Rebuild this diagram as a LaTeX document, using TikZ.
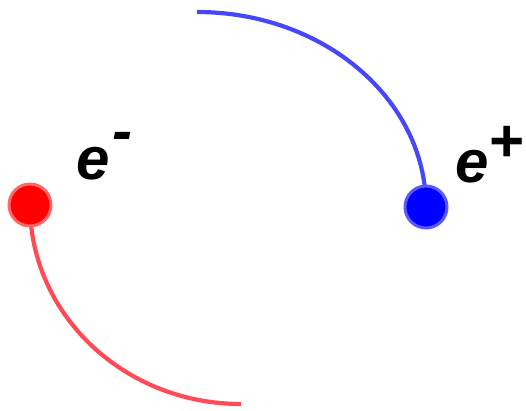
\documentclass[tikz,border=0pt]{standalone}
\usepackage{fontspec}
\setsansfont{Liberation Sans}
\usepackage{xcolor}
\usetikzlibrary{positioning, backgrounds}
\definecolor{elecred}{RGB}{255, 0, 0}
\definecolor{posiblue}{RGB}{0, 0, 255}
\definecolor{trackred}{RGB}{255, 75, 85}
\definecolor{trackblue}{RGB}{70, 70, 250}

\begin{document}
\begin{tikzpicture}[
    x=1pt, y=1pt,
    ball/.style={circle, minimum size=42pt, inner sep=0pt, line width=3pt},
    track/.style={line width=4.2pt},
    charge/.style={anchor=base west, inner sep=0pt, font=\fontsize{60}{60}\selectfont\sffamily\bfseries\itshape},
]
\useasboundingbox (0,0) rectangle (526,411);

% Particles
\node[ball, fill=elecred, draw=elecred!60!white] (eminus) at (30,206) {};
\node[ball, fill=posiblue, draw=posiblue!65!white] (eplus) at (426,204) {};

% Tracks
\coordinate (bluefree) at (197,399);
\begin{scope}[on background layer]
\draw[track, trackblue] (bluefree) arc[start angle=90, end angle=0, x radius=229, y radius=195];
\draw[track, trackred] (eminus.center) arc[start angle=180, end angle=270, x radius=211, y radius=199] coordinate (redfree);
\end{scope}

% Labels
\node[charge] (lminus) at (76,231) {e\kern3pt\raisebox{28pt}{-}};
\node[charge] (lplus) at (455,228) {e\raisebox{21pt}{+}};

\end{tikzpicture}
\end{document}
